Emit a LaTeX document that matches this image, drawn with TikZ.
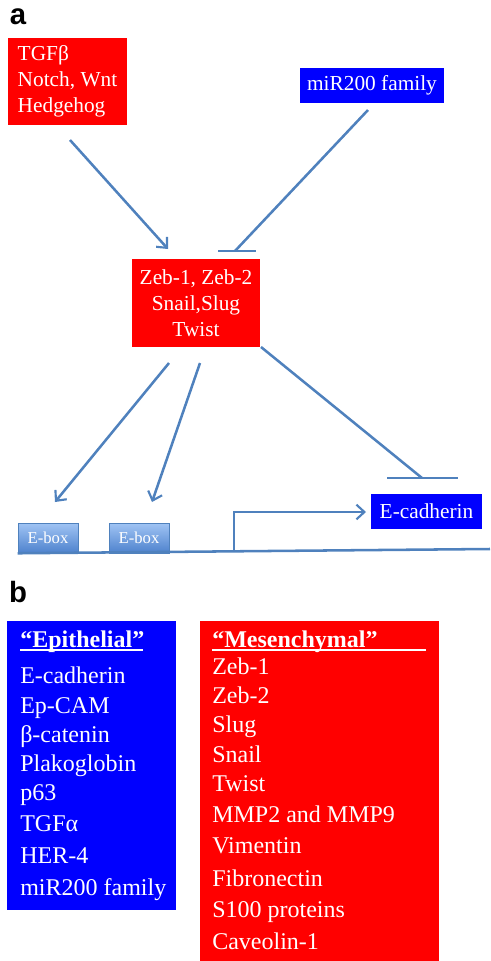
\documentclass[tikz,border=0pt]{standalone}
\usepackage{fontspec}
\setmainfont{Liberation Serif}
\newfontfamily\labelfont{Liberation Sans}
\usetikzlibrary{arrows.meta}
\definecolor{lineblue}{RGB}{79,129,189}
\definecolor{boxred}{RGB}{255,0,0}
\definecolor{boxblue}{RGB}{0,0,255}
\definecolor{eboxtop}{RGB}{160,196,244}
\definecolor{eboxbot}{RGB}{78,130,205}
\tikzset{
  panellabel/.style={font=\labelfont\bfseries\fontsize{22}{24}\selectfont, inner sep=0pt},
  redbox/.style={fill=boxred, text=white, inner sep=2pt, font=\rmfamily\fontsize{16}{19.5}\selectfont},
  bluebox/.style={fill=boxblue, text=white, inner sep=2pt, font=\rmfamily\fontsize{16}{19.5}\selectfont},
  ebox/.style={top color=eboxtop, bottom color=eboxbot, draw=lineblue, line width=0.4pt, text=white,
    minimum width=45pt, minimum height=22.5pt, inner sep=0pt, font=\rmfamily\fontsize{12.5}{14}\selectfont},
  conn/.style={draw=lineblue, line width=1.9pt},
  actarrow/.style={conn, -{Straight Barb[length=6pt,width=11pt,line width=1.6pt]}},
  listtext/.style={text=white, inner sep=0pt, anchor=base west, font=\rmfamily\fontsize{18}{21}\selectfont},
  underl/.style={draw=white, line width=1.1pt}
}
\begin{document}
\begin{tikzpicture}[x=0.75pt,y=-0.75pt]
\useasboundingbox (0,0) rectangle (490,961);
% ---------- panel a ----------
\node[panellabel] (la) at (18,17) {a};
\node[redbox, align=left, minimum width=89.25pt, minimum height=65.25pt] (tgf) at (67.5,81.5) {TGFβ\\Notch, Wnt\\Hedgehog};
\node[bluebox, minimum width=108pt, minimum height=26.25pt] (mir) at (372,85.5) {miR200 family};
\node[redbox, align=center, minimum width=96pt, minimum height=66pt] (zeb) at (196,303) {Zeb-1, Zeb-2\\Snail,Slug\\Twist};
\node[bluebox, minimum width=83.25pt, minimum height=26.25pt] (ecad) at (426.5,511.5) {E-cadherin};
\node[ebox] (eb1) at (48,538) {E-box};
\node[ebox] (eb2) at (139,538) {E-box};

\coordinate (a1s) at (70,140);
\coordinate (a1e) at (168,249);
\coordinate (i1s) at (368,110);
\coordinate (i1e) at (235,251);
\coordinate (i1l) at (218,251);
\coordinate (i1r) at (256,251);
\coordinate (a2s) at (169,363);
\coordinate (a2e) at (55,502);
\coordinate (a3s) at (200,363);
\coordinate (a3e) at (152,502);
\coordinate (i2s) at (261,347);
\coordinate (i2e) at (422,478);
\coordinate (i2l) at (387,478);
\coordinate (i2r) at (458,478);
\coordinate (lineend) at (490,549);
\coordinate (prom) at (234,552);
\coordinate (pe) at (366,512);

\draw[actarrow] (a1s) -- (a1e);
\draw[conn] (i1s) -- (i1e);
\draw[conn] (i1l) -- (i1r);
\draw[actarrow] (a2s) -- (a2e);
\draw[actarrow] (a3s) -- (a3e);
\draw[conn] (i2s) -- (i2e);
\draw[conn] (i2l) -- (i2r);
\draw[conn] (eb1.south west) -- (lineend);
\draw[actarrow] (prom) |- (pe);

% ---------- panel b ----------
\node[panellabel] (lb) at (18,592) {b};
\node[fill=boxblue, anchor=north west, minimum width=126.75pt, minimum height=216.75pt, inner sep=0pt] (epi) at (7,621) {};
\node[fill=boxred, anchor=north west, minimum width=179.25pt, minimum height=255pt, inner sep=0pt] (mes) at (200,621) {};

\node[listtext, font=\rmfamily\bfseries\fontsize{18}{21}\selectfont] (epih) at (20,647) {“Epithelial”};
\node[listtext, font=\rmfamily\bfseries\fontsize{18}{21}\selectfont] (mesh) at (212,647) {“Mesenchymal”};
\coordinate (u1a) at (20,650);
\coordinate (u1b) at (143,650);
\coordinate (u2a) at (212,650);
\coordinate (u2b) at (426,650);
\draw[underl] (u1a) -- (u1b);
\draw[underl] (u2a) -- (u2b);

\foreach \t/\y [count=\i] in {E-cadherin/683, Ep-CAM/713, β-catenin/742, Plakoglobin/771, p63/800, TGFα/831, HER-4/863, miR200 family/895}
  \node[listtext] (e\i) at (20,\y) {\t};

\foreach \t/\y [count=\i] in {Zeb-1/674, Zeb-2/703, Slug/732, Snail/762, Twist/791, MMP2 and MMP9/822, Vimentin/853, Fibronectin/886, S100 proteins/917, Caveolin-1/949}
  \node[listtext] (m\i) at (212,\y) {\t};
\end{tikzpicture}
\end{document}
